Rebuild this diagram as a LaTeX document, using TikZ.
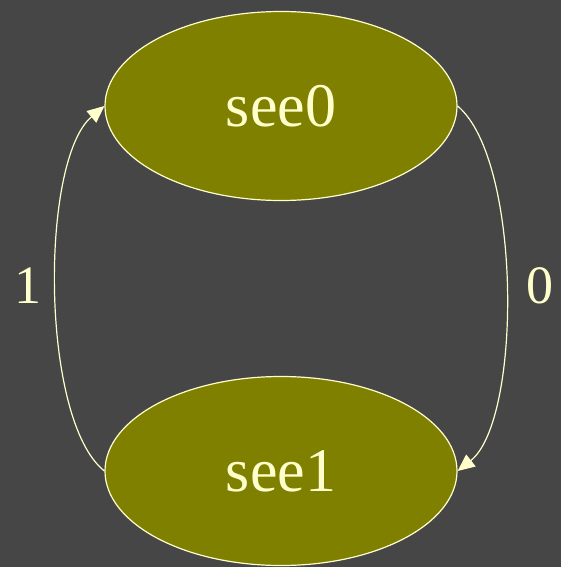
\documentclass[tikz,border=0pt]{standalone}
\usepackage{fontspec}
\setmainfont{Liberation Serif}
\usetikzlibrary{positioning, arrows.meta, shapes.geometric, calc}
\definecolor{bgcol}{HTML}{464646}
\definecolor{olivefill}{HTML}{808000}
\definecolor{paleyellow}{HTML}{FFFFCC}
\begin{document}
\begin{tikzpicture}[x=1pt, y=-1pt]
	\tikzset{
		state/.style={ellipse, draw=paleyellow, fill=olivefill, line width=1.2pt, minimum width=352pt, minimum height=189pt, inner sep=0pt, text=paleyellow, font=\fontsize{62}{62}\selectfont},
		trans/.style={draw=paleyellow, line width=1.2pt, -{Triangle[length=17pt, width=15pt]}, fill=none},
		lbl/.style={text=paleyellow, font=\fontsize{54}{54}\selectfont}
	}
	\fill[bgcol] (0,0) rectangle (561,567);
	\useasboundingbox (0,0) rectangle (561,567);
	
	\node[state] (see0) at (281,106) {see0};
	\node[state] (see1) at (281,471) {see1};
	
	% 1: see1 -> see0
	\draw[trans] (see1.west) .. controls (40,420) and (40,160) .. (see0.west);
	% 0: see0 -> see1
	\draw[trans] (see0.east) .. controls (522,160) and (522,420) .. (see1.east);
	
	\node[lbl] (one) at (28,286) {1};
	\node[lbl] (zero) at (540,286) {0};
\end{tikzpicture}
\end{document}
